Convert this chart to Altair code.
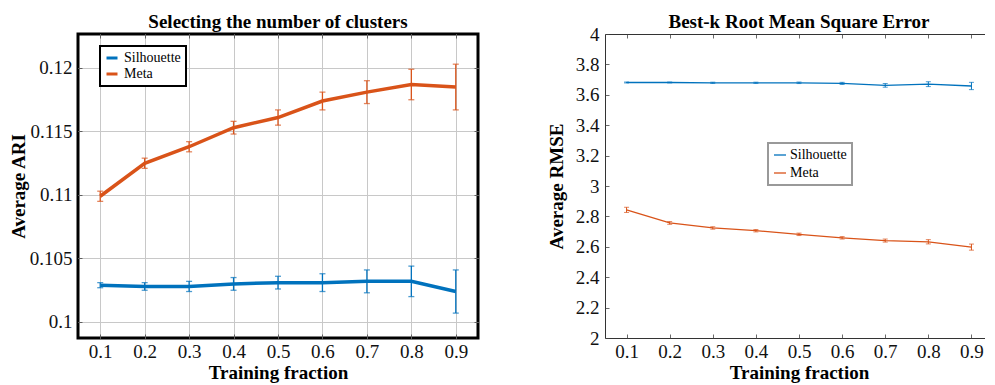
import altair as alt
import pandas as pd

FONT = "Liberation Serif"

fractions = [0.1, 0.2, 0.3, 0.4, 0.5, 0.6, 0.7, 0.8, 0.9]
series_names = ["Silhouette", "Meta"]

ari_silhouette = [0.1029, 0.1028, 0.1028, 0.1030, 0.1031, 0.1031, 0.1032, 0.1032, 0.1024]
ari_silhouette_err = [0.0002, 0.0003, 0.0004, 0.0005, 0.0005, 0.0007, 0.0009, 0.0012, 0.0017]
ari_meta = [0.1099, 0.1125, 0.1138, 0.1153, 0.1161, 0.1174, 0.1181, 0.1187, 0.1185]
ari_meta_err = [0.0004, 0.0004, 0.0004, 0.0005, 0.0006, 0.0007, 0.0009, 0.0012, 0.0018]

rmse_silhouette = [3.681, 3.681, 3.679, 3.679, 3.679, 3.675, 3.662, 3.670, 3.658]
rmse_silhouette_err = [0.003, 0.003, 0.004, 0.004, 0.005, 0.007, 0.012, 0.016, 0.024]
rmse_meta = [2.843, 2.757, 2.724, 2.706, 2.682, 2.659, 2.641, 2.633, 2.598]
rmse_meta_err = [0.017, 0.009, 0.008, 0.008, 0.008, 0.008, 0.010, 0.014, 0.020]

ari_ticks = [0.1, 0.105, 0.11, 0.115, 0.12]
rmse_ticks = [2.0, 2.2, 2.4, 2.6, 2.8, 3.0, 3.2, 3.4, 3.6, 3.8, 4.0]

line_colors = ["#0072BD", "#D95319"]


def table(sil, sil_err, meta, meta_err):
    rows = []
    for name, vals, errs in (("Silhouette", sil, sil_err), ("Meta", meta, meta_err)):
        for f, v, e in zip(fractions, vals, errs):
            rows.append(dict(frac=f, series=name, value=v, lo=v - e, hi=v + e))
    return pd.DataFrame(rows)


def tick_axis(orient, values):
    return alt.Axis(orient=orient, values=values, labels=False, domain=False, grid=False,
                    title=None, ticks=True, tickSize=4, offset=-4, tickColor="#444",
                    tickWidth=0.8)


def panel(df, title, title_offset, ytitle, xdom, ydom, yticks, w, h, line_w, err_w, cap,
          grid, legend, view, ytitle_pad):
    xs = alt.Scale(domain=xdom, nice=False, zero=False)
    ys = alt.Scale(domain=ydom, nice=False, zero=False)
    color = alt.Color("series:N", scale=alt.Scale(domain=series_names, range=line_colors),
                      legend=None)
    base = alt.Chart(df)
    common = dict(labelFont=FONT, labelFontSize=19, labelColor="#111", titleFont=FONT,
                  titleFontSize=19, titleFontWeight="bold", titleColor="#000",
                  domain=False, ticks=False, tickSize=0, labelFlush=False,
                  labelOverlap=False, grid=grid, gridColor="#c8c8c8", gridWidth=1)
    x_lab = alt.Axis(values=fractions, format=".1f", title="Training fraction",
                     labelPadding=4, titlePadding=2, **common)
    y_lab = alt.Axis(values=yticks, format="~g", title=ytitle, labelPadding=6,
                     titlePadding=ytitle_pad, **common)

    lines = base.mark_line(strokeWidth=line_w).encode(
        x=alt.X("frac:Q", scale=xs, axis=x_lab),
        y=alt.Y("value:Q", scale=ys, axis=y_lab),
        color=alt.Color("series:N",
                        scale=alt.Scale(domain=series_names, range=line_colors),
                        legend=legend),
    )
    rules = base.mark_rule(strokeWidth=err_w).encode(
        x=alt.X("frac:Q", scale=xs, axis=tick_axis("bottom", fractions)),
        y=alt.Y("lo:Q", scale=ys, axis=tick_axis("left", yticks)),
        y2="hi:Q",
        color=color,
    )
    caps = base.transform_fold(["lo", "hi"], as_=["end", "bound"]).mark_tick(
        orient="horizontal", size=cap, thickness=err_w
    ).encode(
        x=alt.X("frac:Q", scale=xs, axis=tick_axis("top", fractions)),
        y=alt.Y("bound:Q", scale=ys, axis=tick_axis("right", yticks)),
        color=color,
    )
    return alt.layer(lines, rules, caps).resolve_axis(
        x="independent", y="independent"
    ).properties(
        width=w, height=h, view=view,
        title=alt.TitleParams(title, font=FONT, fontSize=19, fontWeight="bold",
                              color="#000", anchor="middle", frame="group",
                              offset=title_offset),
    )


left_legend = alt.Legend(title=None, orient="none", legendX=22, legendY=12,
                         direction="vertical", symbolType="stroke", symbolSize=121,
                         symbolStrokeWidth=3, labelFont=FONT, labelFontSize=14,
                         labelColor="#000", padding=5, rowPadding=2, labelOffset=5,
                         strokeColor="#000", fillColor="white")
right_legend = alt.Legend(title=None, orient="none", legendX=163, legendY=109,
                          direction="vertical", symbolType="stroke", symbolSize=144,
                          symbolStrokeWidth=1.3, labelFont=FONT, labelFontSize=14,
                          labelColor="#000", padding=5, rowPadding=4, labelOffset=3,
                          strokeColor="#999", fillColor="white")

left = panel(table(ari_silhouette, ari_silhouette_err, ari_meta, ari_meta_err),
             "Selecting the number of clusters", 1.5, "Average ARI",
             [0.05, 0.95], [0.09874, 0.122677], ari_ticks, 400, 304, 3.5, 1.3, 6,
             True, left_legend,
             alt.ViewBackground(stroke="#000", strokeWidth=3), 1)

right = panel(table(rmse_silhouette, rmse_silhouette_err, rmse_meta, rmse_meta_err),
              "Best-k Root Mean Square Error", -6.5, "Average RMSE",
              [0.05, 0.95], [2.0, 4.0], rmse_ticks, 388, 304, 1.3, 1.0, 5,
              False, right_legend,
              alt.ViewBackground(stroke="#333", strokeWidth=1), 9)

chart = alt.hconcat(left, right, spacing=66).resolve_scale(
    x="independent", y="independent", color="independent"
).resolve_legend(color="independent").properties(
    padding={"left": -1, "top": 3, "right": -9, "bottom": 0}
).configure(font=FONT).configure_view(stroke=None).configure_legend(strokeWidth=2)

chart.save("out.html", embed_options={"renderer": "svg", "actions": False})
